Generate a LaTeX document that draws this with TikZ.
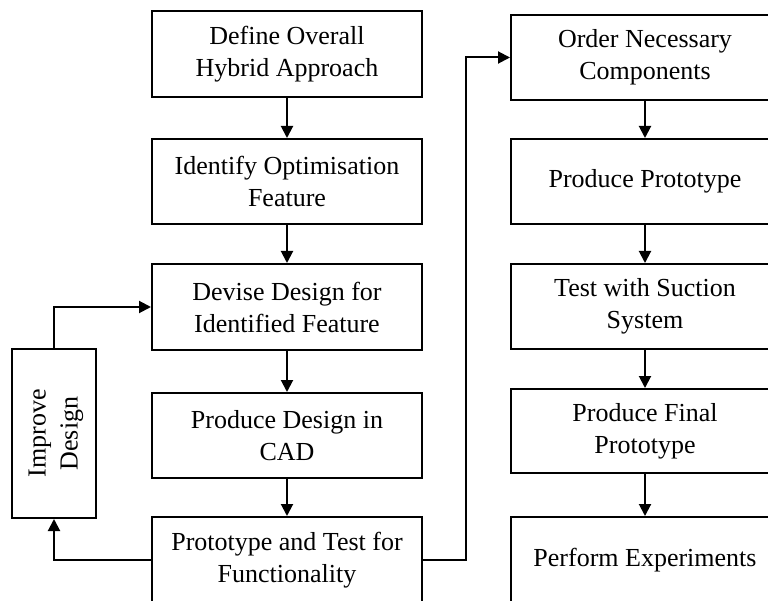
\documentclass[tikz,border=0pt]{standalone}
\usepackage{fontspec}
\setmainfont{Liberation Serif}
\usetikzlibrary{arrows.meta}
\begin{document}
\begin{tikzpicture}[x=1pt,y=-1pt,
  box/.style={draw,line width=2pt,rectangle,inner sep=0pt,align=center,
    font=\fontsize{26}{32}\selectfont},
  lbox/.style={box,minimum width=270pt,minimum height=86pt},
  rbox/.style={box,minimum width=268pt,minimum height=85pt},
  arr/.style={line width=2pt,-{Triangle[length=12pt,width=12pt]}}]
\useasboundingbox (0,0) rectangle (768,601);
\clip (0,0) rectangle (768,601);
\node[lbox] (b1) at (287,54) {Define Overall\\Hybrid Approach};
\node[lbox,minimum height=85pt] (b2) at (287,181.5) {Identify Optimisation\\Feature};
\node[lbox] (b3) at (287,307) {Devise Design for\\Identified Feature};
\node[lbox,minimum height=85pt] (b4) at (287,435.5) {Produce Design in\\CAD};
\node[lbox] (b5) at (287,560) {Prototype and Test for\\Functionality};
\node[box,minimum width=84pt,minimum height=169pt] (imp) at (54,433.5) {};
\node[font=\fontsize{26}{32}\selectfont,align=center,rotate=90,inner sep=0pt] (impt) at ([xshift=2pt]imp.center) {Improve\\Design};
\node[rbox] (r1) at (645,57.5) {Order Necessary\\Components};
\node[rbox] (r2) at (645,181.5) {Produce Prototype};
\node[rbox] (r3) at (645,306.5) {Test with Suction\\System};
\node[rbox,minimum height=84pt] (r4) at (645,431) {Produce Final\\Prototype};
\node[rbox,minimum height=86pt] (r5) at (645,560) {Perform Experiments};
\coordinate (j) at (466,560);
\draw[arr] (b1) -- (b2);
\draw[arr] (b2) -- (b3);
\draw[arr] (b3) -- (b4);
\draw[arr] (b4) -- (b5);
\draw[arr] (b5.west) -| (imp.south);
\draw[arr] (imp.north) |- (b3.west);
\draw[arr] (b5.east) -- (j) |- (r1.west);
\draw[arr] (r1) -- (r2);
\draw[arr] (r2) -- (r3);
\draw[arr] (r3) -- (r4);
\draw[arr] (r4) -- (r5);
\end{tikzpicture}
\end{document}
